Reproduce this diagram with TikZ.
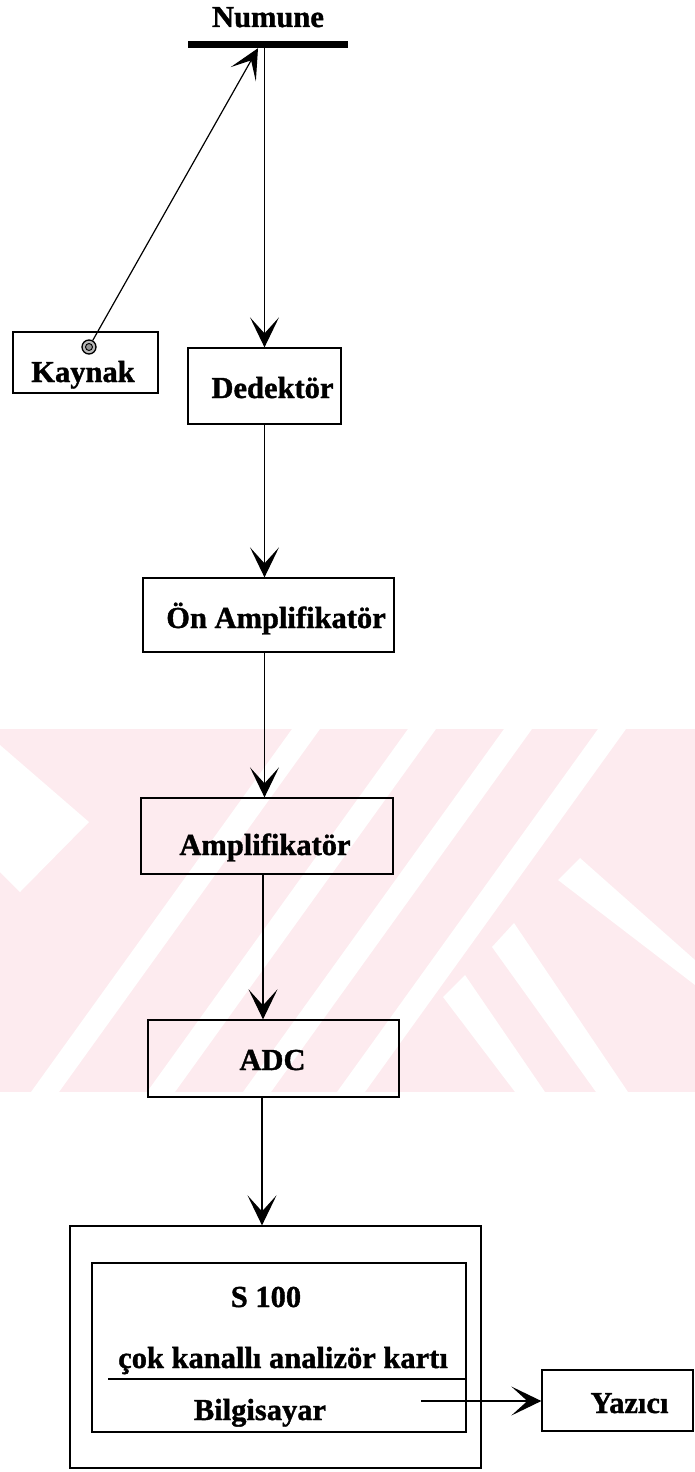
\documentclass[tikz,border=0pt]{standalone}
\usepackage{fontspec}
\setmainfont{Liberation Serif}[BoldFeatures={FakeBold=1.2}]
\usetikzlibrary{arrows.meta}
\definecolor{wmpink}{RGB}{253,235,239}
\tikzset{
  lbl/.style={font=\fontsize{30.5}{36}\selectfont\bfseries, inner sep=0pt, anchor=base},
  boxnode/.style={draw, line width=1.3pt, inner sep=0pt, fill=none},
  arr/.style={line width=1.2pt, -{Stealth[length=30pt, width=29pt, inset=16pt]}},
  plain/.style={line width=1.2pt},
}
\begin{document}
\begin{tikzpicture}[x=1pt, y=-1pt]
\useasboundingbox (0,0) rectangle (695,1472);
\fill[white] (0,0) rectangle (695,1472);
% watermark (pale)
\begin{scope}
  \clip (0,729) rectangle (695,1092);
  \fill[wmpink] (0,729) rectangle (695,1092);
  \fill[white] (0,745) -- (89,822) -- (20,892) -- (0,872) -- cycle;
  \fill[white] (31,1092) -- (59,1092) -- (320,729) -- (292,729) -- cycle;
  \fill[white] (147,1092) -- (175,1092) -- (436,729) -- (408,729) -- cycle;
  \fill[white] (243,1092) -- (271,1092) -- (532,729) -- (504,729) -- cycle;
  \fill[white] (337,1092) -- (365,1092) -- (626,729) -- (598,729) -- cycle;
  \fill[white] (492,947) -- (514,923) -- (628,1092) -- (596,1092) -- cycle;
  \fill[white] (443,997) -- (465,975) -- (545,1092) -- (515,1092) -- cycle;
  \fill[white] (558,880) -- (580,858) -- (695,960) -- (695,985) -- cycle;
\end{scope}
% sample bar
\node[fill=black, minimum width=160pt, minimum height=7pt, inner sep=0pt] (bar) at (268,44.5) {};
\node[lbl] (numune) at (268,27) {Numune};
% boxes
\node[boxnode, minimum width=145pt, minimum height=61pt] (kaynak) at (85.5,362.5) {};
\node[lbl] (kaynaktxt) at (83,382) {Kaynak};
\node[boxnode, minimum width=153pt, minimum height=76pt] (dedek) at (264.5,386) {};
\node[lbl] (dedektxt) at (272.5,398) {Dedektör};
\node[boxnode, minimum width=251pt, minimum height=74pt] (onamp) at (268.5,615) {};
\node[lbl] (onamptxt) at (276,628) {Ön Amplifikatör};
\node[boxnode, minimum width=252pt, minimum height=76pt] (amp) at (267,836) {};
\node[lbl] (amptxt) at (265,855) {Amplifikatör};
\node[boxnode, minimum width=251pt, minimum height=77pt] (adc) at (273.5,1058.5) {};
\node[lbl] (adctxt) at (272.5,1070) {ADC};
\node[boxnode, minimum width=411pt, minimum height=242pt] (outer) at (275.5,1347) {};
\node[boxnode, minimum width=374pt, minimum height=169pt] (inner) at (279,1347.5) {};
\node[lbl] (s100) at (266,1307) {S 100};
\node[lbl] (cok) at (283,1368) {çok kanallı analizör kartı};
\node[lbl] (bilg) at (260,1420) {Bilgisayar};
\node[boxnode, minimum width=151pt, minimum height=61pt] (yaz) at (617.5,1400.5) {};
\node[lbl] (yaztxt) at (629.5,1413) {Yazıcı};
% separator inside inner box
\coordinate (sepL) at (108,1379);
\draw[plain] (sepL) -- (sepL -| inner.east);
% source dot
\node[circle, draw, line width=1.3pt, fill=gray!55, minimum size=14pt, inner sep=0pt] (src) at (89,347) {};
\node[circle, draw, line width=0.9pt, fill=gray!85, minimum size=7pt, inner sep=0pt] (srccore) at (src.center) {};
% connectors
\draw[arr] (src) -- ([xshift=-10pt]bar.south);
\draw[arr] (dedek.north |- bar.south) -- (dedek.north);
\draw[arr] (dedek.south) -- (dedek.south |- onamp.north);
\draw[arr] (onamp.south -| dedek.south) -- (amp.north -| dedek.south);
\coordinate (colB) at (263,0);
\draw[arr] (amp.south -| colB) -- (adc.north -| colB);
\coordinate (colC) at (262,0);
\draw[arr] (adc.south -| colC) -- (outer.north -| colC);
\coordinate (bstart) at (421,1401);
\draw[arr] (bstart) -- (bstart -| yaz.west);
\end{tikzpicture}
\end{document}
